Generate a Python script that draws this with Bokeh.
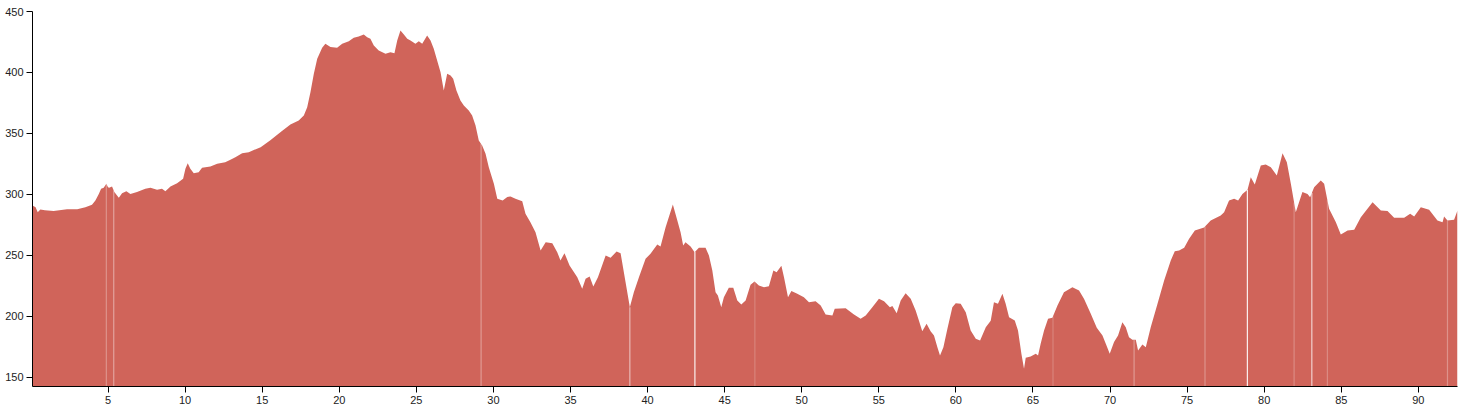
import numpy as np
from bokeh.plotting import figure
from bokeh.models import Range1d, FixedTicker
from bokeh.embed import file_html
from bokeh.resources import INLINE

# distance (km) and elevation (m)
km = [0.1, 0.3, 0.44, 0.61, 0.9, 1.47, 2.34, 3.0, 3.53, 3.96, 4.18, 4.4, 4.55, 4.72, 4.89, 5.0, 5.07, 5.26,
      5.41, 5.7, 5.91, 6.19, 6.45, 6.88, 7.42, 7.75, 8.18, 8.5, 8.72, 9.05, 9.48, 9.87, 10.02, 10.17, 10.34,
      10.56, 10.88, 11.1, 11.64, 12.08, 12.6, 12.94, 13.26, 13.7, 14.13, 14.9, 15.53, 16.18, 16.83, 17.37,
      17.7, 17.92, 18.13, 18.35, 18.57, 18.89, 19.1, 19.43, 19.86, 20.19, 20.62, 20.94, 21.26, 21.59, 21.81,
      22.02, 22.24, 22.56, 23.0, 23.32, 23.58, 23.76, 23.97, 24.19, 24.41, 24.62, 24.94, 25.16, 25.38, 25.7,
      25.92, 26.13, 26.35, 26.57, 26.78, 27.0, 27.22, 27.39, 27.6, 27.86, 28.08, 28.4, 28.62, 28.84, 29.05,
      29.27, 29.49, 29.7, 30.03, 30.25, 30.6, 30.9, 31.11, 31.43, 31.87, 32.08, 32.4, 32.73, 33.06, 33.39,
      33.82, 34.14, 34.35, 34.61, 34.94, 35.44, 35.76, 35.98, 36.24, 36.48, 36.78, 37.28, 37.6, 37.99, 38.25,
      38.57, 38.85, 39.11, 39.44, 39.87, 40.19, 40.63, 40.84, 41.17, 41.64, 41.93, 42.14, 42.31, 42.46, 42.79,
      43.05, 43.33, 43.76, 43.98, 44.2, 44.41, 44.56, 44.78, 44.95, 45.27, 45.56, 45.82, 46.08, 46.36, 46.68,
      46.94, 47.22, 47.55, 47.87, 48.16, 48.37, 48.68, 48.85, 49.11, 49.33, 49.71, 50.14, 50.47, 50.9, 51.23,
      51.55, 51.99, 52.14, 52.85, 53.39, 53.82, 54.15, 54.58, 55.01, 55.34, 55.72, 55.88, 56.16, 56.42, 56.74,
      57.07, 57.39, 57.6, 57.82, 58.1, 58.36, 58.58, 58.8, 58.97, 59.19, 59.45, 59.77, 59.99, 60.31, 60.64,
      60.96, 61.29, 61.57, 61.94, 62.26, 62.47, 62.73, 63.02, 63.23, 63.45, 63.82, 64.03, 64.25, 64.42, 64.53,
      64.85, 65.18, 65.33, 65.5, 65.72, 65.98, 66.26, 66.59, 67.01, 67.56, 67.99, 68.31, 68.75, 69.14, 69.51,
      69.77, 69.98, 70.26, 70.52, 70.8, 71.02, 71.23, 71.45, 71.67, 71.82, 72.1, 72.32, 72.64, 73.08, 73.51,
      73.94, 74.2, 74.48, 74.81, 75.13, 75.5, 76.1, 76.53, 77.18, 77.4, 77.72, 78.05, 78.31, 78.59, 78.92,
      79.13, 79.39, 79.78, 80.1, 80.43, 80.82, 81.19, 81.47, 81.73, 82.05, 82.48, 82.81, 82.98, 83.24, 83.67,
      83.89, 84.21, 84.65, 84.97, 85.41, 85.84, 86.27, 87.03, 87.57, 88.0, 88.43, 89.08, 89.47, 89.73, 90.16,
      90.7, 91.24, 91.57, 91.67, 91.89, 92.32, 92.54]
elev = [291, 289.5, 285.5, 287.7, 287, 286.4, 288, 288, 289.6, 291.5, 295, 300.5, 304.6, 305.5, 308.8, 306,
        305.5, 306.6, 302, 297.3, 301, 302.7, 300.5, 302, 304.6, 305.5, 303.8, 304.6, 302.7, 306.6, 309.3,
        312.9, 321, 325.7, 321, 317.5, 318.3, 321.9, 323, 325.2, 326.5, 328.4, 330.6, 333.9, 334.7, 338.8,
        344.5, 351.1, 357.4, 360.7, 364.8, 371.6, 383.9, 398.9, 411.2, 420.2, 423.5, 420.8, 420.2, 423.5,
        425.7, 428.4, 429.5, 431.1, 428.9, 427.6, 422.1, 418, 415.3, 416.6, 415.8, 426.2, 434.4, 431.1, 427.6,
        426.2, 423.5, 425.7, 423.5, 430.3, 426.2, 419.4, 409.8, 400.2, 385.2, 398.9, 397.5, 394.8, 385.2, 377,
        373, 368.9, 364.8, 356.6, 344.3, 340.2, 333.4, 322.4, 308.8, 296.5, 295, 298, 298.4, 296.5, 294.5,
        284.2, 277.3, 269.1, 254.1, 260.9, 260.1, 252.7, 245.9, 251.9, 241.8, 232.2, 222.7, 230.9, 232.8,
        224.6, 232.2, 250, 248.1, 253.3, 251.9, 228.2, 207.6, 219.9, 232.2, 247.3, 251.4, 259, 257.4, 273.2,
        291.8, 278.7, 269.1, 258.2, 260.9, 257.4, 252.7, 256.3, 256.3, 250, 237.7, 219.9, 217.2, 207.6, 215.8,
        223.5, 223.5, 213.1, 209.8, 213.1, 226, 228.7, 225.4, 224, 224.8, 237.7, 236.3, 241.6, 232.2, 215.8,
        220.8, 218.6, 215.8, 211.7, 212.5, 209, 201.6, 200.8, 206.3, 206.8, 201.6, 198.1, 200.8, 207.6, 214.5,
        212.5, 207.6, 208.5, 202.7, 213.1, 219.1, 214.5, 204.9, 196.7, 187.9, 194, 187.9, 184.4, 174.8, 168,
        174.8, 189.9, 207.6, 210.9, 210.4, 203.5, 188.5, 181.7, 180.3, 191.2, 196.5, 211.7, 210.4, 218.6,
        210.4, 199.4, 196.7, 188.5, 169.4, 157.1, 166.1, 167.2, 169.4, 168, 177.6, 188.5, 198.1, 198.9, 209,
        219.9, 224, 221.3, 214.5, 202.2, 190.7, 184.4, 176.2, 169.4, 179, 184.4, 195.3, 191.2, 183, 180.9,
        180.9, 172.1, 177, 174.8, 191.2, 210.4, 229.5, 245.9, 253.5, 254.1, 256.3, 263.7, 270.5, 273, 278.7,
        282.8, 285.5, 295.1, 296.5, 295.1, 300.5, 303.8, 314.2, 308.2, 323.8, 324.6, 322.4, 315.6, 333.9,
        326.5, 308.8, 285.5, 302, 300.5, 297.8, 306, 311.5, 308.8, 288.3, 277.3, 267.2, 270.5, 271.1, 281.4,
        293.7, 286.9, 286.4, 281, 281, 284.2, 282, 289.6, 287.5, 278.7, 277.3, 282, 278.7, 279.2, 286.9]

# thin light seams visible in the reference fill
seam_km = [4.89, 5.37, 29.2, 38.85, 43.07, 46.96, 66.3, 71.56, 76.16, 78.91, 81.94, 83.09, 84.1, 91.89]
seam_alpha = [0.3, 0.4, 0.35, 0.55, 0.9, 0.2, 0.2, 0.35, 0.3, 0.9, 0.25, 0.7, 0.25, 0.3]

x_ticks = [5, 10, 15, 20, 25, 30, 35, 40, 45, 50, 55, 60, 65, 70, 75, 80, 85, 90]
y_ticks = [150, 200, 250, 300, 350, 400, 450]

Y0 = 142.6
p = figure(width=1458, height=409, output_backend="svg", toolbar_location=None,
           x_range=Range1d(km[0], km[-1]), y_range=Range1d(Y0, 450),
           min_border_left=32, min_border_right=1, min_border_top=11, min_border_bottom=23)
p.outline_line_color = None
p.grid.visible = False
p.background_fill_color = "white"
p.border_fill_color = "white"

fill = "#d0645a"
p.varea(x=km, y1=[Y0] * len(km), y2=elev, fill_color=fill, fill_alpha=1.0)

seam_top = np.interp(seam_km, km, elev)
p.segment(x0=seam_km, y0=[Y0] * len(seam_km), x1=seam_km, y1=list(seam_top),
          line_color="white", line_alpha=seam_alpha, line_width=1.2)

for ax in (p.xaxis[0], p.yaxis[0]):
    ax.axis_line_color = "black"
    ax.axis_line_width = 1
    ax.major_tick_line_color = "black"
    ax.major_tick_out = 6
    ax.major_tick_in = 0
    ax.minor_tick_line_color = None
    ax.major_label_text_font = "Liberation Sans"
    ax.major_label_text_font_size = "11px"
    ax.major_label_text_color = "#222222"
    ax.major_label_standoff = 3

p.xaxis[0].ticker = FixedTicker(ticks=x_ticks)
p.yaxis[0].ticker = FixedTicker(ticks=y_ticks)

open("out.html", "w").write(file_html(p, INLINE))
